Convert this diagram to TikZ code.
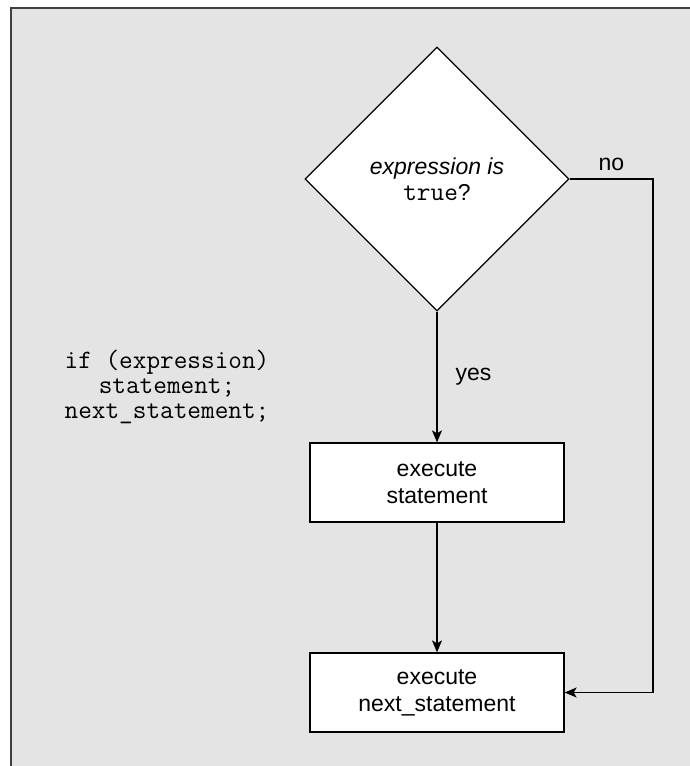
\documentclass[tikz,border=0pt]{standalone}
\usepackage{fontspec}
\setmainfont{Liberation Sans}
\usetikzlibrary{shapes.geometric,arrows.meta}
\definecolor{bg}{RGB}{228,228,228}
\newcommand{\codesize}{\fontsize{26.5}{25}\selectfont}
\tikzset{
  txt/.style={font=\fontsize{23}{26}\selectfont, align=center},
  decision/.style={diamond, draw=black, fill=white, line width=1.2pt, inner sep=0pt,
     minimum width=264pt, minimum height=264pt, txt},
  process/.style={rectangle, draw=black, fill=white, line width=1.3pt,
     minimum width=254pt, minimum height=79pt, inner sep=0pt, txt, font=\fontsize{23}{27}\selectfont},
  codetext/.style={txt, font=\ttfamily\codesize, inner sep=0pt},
  flow/.style={line width=1.3pt, -{Stealth[length=12pt,width=10pt,inset=3pt]}},
  lbl/.style={txt, inner sep=0pt}
}
\begin{document}
\begin{tikzpicture}[x=1pt,y=-1pt]
\useasboundingbox (0,0) rectangle (690,766);
\fill[bg] (10,7) rectangle (690,766);
\draw[line width=2pt, black!75] (10.5,766) -- (10.5,7.5) -- (690,7.5);

\node[decision] (dec) at (437,179) {\textit{expression is}\\{\ttfamily\codesize true}?};
\node[process] (s1) at (437,482.5) {execute\\statement};
\node[process] (s2) at (437,692.5) {execute\\next\_statement};
\node[codetext] (code) at (167,387) {if (expression)\\statement;\\next\_statement;};

\coordinate (corner) at (653,179);

\draw[flow] (dec.south) -- node[lbl, anchor=west, xshift=18pt] {yes} (s1.north);
\draw[flow] (s1.south) -- (s2.north);
\draw[flow] (dec.east) -- node[lbl, above=8pt] {no} (corner) |- (s2.east);
\end{tikzpicture}
\end{document}
